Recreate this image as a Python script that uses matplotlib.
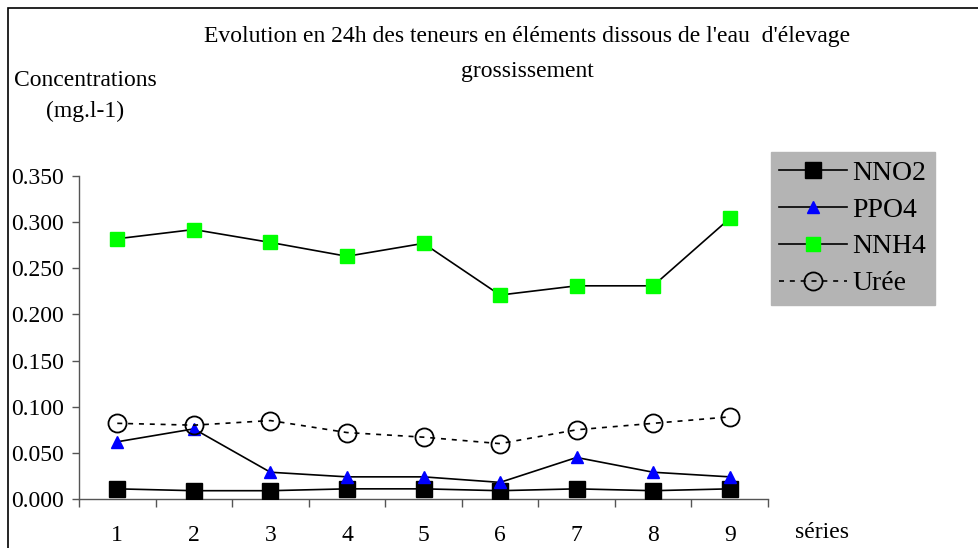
import numpy as np
import matplotlib.pyplot as plt
from matplotlib.patches import Rectangle

# ── data ─────────────────────────────────────────────────────────
series_idx = [1, 2, 3, 4, 5, 6, 7, 8, 9]
nno2 = [0.011, 0.009, 0.009, 0.011, 0.011, 0.009, 0.011, 0.009, 0.011]
ppo4 = [0.062, 0.076, 0.029, 0.024, 0.024, 0.018, 0.045, 0.029, 0.024]
nnh4 = [0.282, 0.292, 0.278, 0.263, 0.277, 0.221, 0.231, 0.231, 0.304]
uree = [0.082, 0.080, 0.085, 0.072, 0.067, 0.060, 0.075, 0.082, 0.089]
y_ticks = [0.0, 0.05, 0.10, 0.15, 0.20, 0.25, 0.30, 0.35]

title = "Evolution en 24h des teneurs en éléments dissous de l'eau  d'élevage\ngrossissement"

plt.rcParams["font.family"] = ["Liberation Serif", "DejaVu Serif"]
fs = 17
fs_leg = 20
axis_col = "#555555"

fig = plt.figure(figsize=(9.79, 5.48), dpi=100, facecolor="white")
# outer chart border (right/bottom edges fall outside the picture)
fig.patches.append(Rectangle((8 / 979, -0.1), 1.2, 1 - 8 / 548 + 0.1,
                             transform=fig.transFigure, fill=False,
                             edgecolor="black", linewidth=1.2))

ax = fig.add_axes([79 / 979, 1 - 499 / 548, (768 - 79) / 979, (499 - 176) / 548])

lw = 1.2
ax.plot(series_idx, nno2, color="black", lw=lw, marker="s", ms=12,
        mfc="black", mec="black", label="NNO2", zorder=3)
ax.plot(series_idx, ppo4, color="black", lw=lw, marker="^", ms=9,
        mfc="#0000ff", mec="#0000ff", label="PPO4", zorder=3)
ax.plot(series_idx, nnh4, color="black", lw=lw, marker="s", ms=10.5,
        mfc="#00ff00", mec="#00ff00", label="NNH4", zorder=3)
ax.plot(series_idx, uree, color="black", lw=lw, ls=(0, (3, 3.5)), marker="o", ms=13,
        mfc="none", mec="black", mew=1.3, label="Urée", zorder=3)

ax.set_xlim(0.5, 9.5)
ax.set_ylim(0, 0.35)
ax.set_yticks(y_ticks)
ax.set_yticklabels([f"{v:.3f}" for v in y_ticks], fontsize=fs)
ax.tick_params(axis="y", direction="out", length=5, width=1, color=axis_col, pad=6)

# category boundaries as major ticks, labels on minor ticks
ax.set_xticks(np.arange(0.5, 10, 1))
ax.set_xticklabels([])
ax.set_xticks(series_idx, minor=True)
ax.set_xticklabels([str(i) for i in series_idx], minor=True, fontsize=fs)
ax.tick_params(axis="x", which="major", direction="out", length=6, width=1, color=axis_col)
ax.tick_params(axis="x", which="minor", length=0, pad=19)

for side in ["top", "right"]:
    ax.spines[side].set_visible(False)
for side in ["left", "bottom"]:
    ax.spines[side].set_color(axis_col)
    ax.spines[side].set_linewidth(1)

leg = ax.legend(loc="upper left", bbox_to_anchor=(771 / 979, 1 - 152 / 548),
                bbox_transform=fig.transFigure, fontsize=fs_leg, frameon=True,
                fancybox=False, handlelength=2.45, handletextpad=0.18,
                labelspacing=0.41, borderpad=0.3, borderaxespad=0)
leg.get_frame().set_facecolor("#b4b4b4")
leg.get_frame().set_edgecolor("#b4b4b4")
leg.get_frame().set_alpha(1)

fig.text(527 / 979, 1 - 54 / 548, title, ha="center", va="center",
         fontsize=fs, linespacing=1.85)
fig.text(85 / 979, 1 - 96 / 548, "Concentrations\n(mg.l-1)", ha="center",
         va="center", fontsize=fs, linespacing=1.65)
fig.text(822 / 979, 1 - 532 / 548, "séries", ha="center", va="center", fontsize=fs)

fig.savefig("out.png", dpi=100, facecolor="white")
